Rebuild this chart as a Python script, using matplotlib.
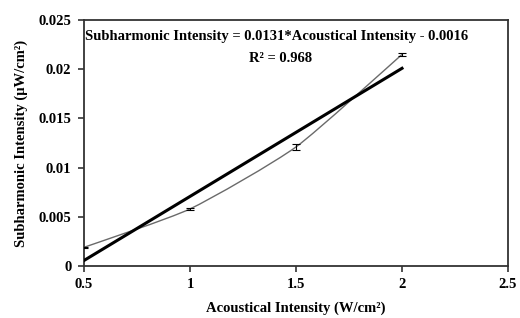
import matplotlib
matplotlib.use("Agg")
import matplotlib.pyplot as plt
import numpy as np
from matplotlib.path import Path
from matplotlib.patches import PathPatch

acoustic = [0.5, 1.0, 1.5, 2.0]
subharm = [0.0019, 0.0058, 0.0121, 0.0215]
subharm_err = [0.00005, 0.0001, 0.00027, 0.00018]

x_ticks = [0.5, 1, 1.5, 2, 2.5]
x_labels = ["0.5", "1", "1.5", "2", "2.5"]
y_ticks = [0, 0.005, 0.01, 0.015, 0.02, 0.025]
y_labels = ["0", "0.005", "0.01", "0.015", "0.02", "0.025"]

plt.rcParams["font.family"] = ["Liberation Serif", "DejaVu Serif"]
plt.rcParams["font.weight"] = "bold"

fig = plt.figure(figsize=(5.2, 3.18), dpi=100)
ax = fig.add_axes([84 / 520, 1 - 266 / 318, 424 / 520, 246 / 318])


def smooth_path(xs, ys, t=0.1):
    """Lightly smoothed line through the points (Bezier, Catmull-Rom tangents)."""
    pts = np.column_stack([xs, ys])
    verts, codes = [pts[0]], [Path.MOVETO]
    n = len(pts)
    for i in range(n - 1):
        p0 = pts[max(i - 1, 0)]
        p1, p2 = pts[i], pts[i + 1]
        p3 = pts[min(i + 2, n - 1)]
        c1 = p1 + (p2 - p0) * t
        c2 = p2 - (p3 - p1) * t
        verts += [c1, c2, p2]
        codes += [Path.CURVE4] * 3
    return Path(verts, codes)


ax.add_patch(PathPatch(smooth_path(acoustic, subharm), fill=False,
                       edgecolor="#6a6a6a", linewidth=1.0, zorder=2))
ax.errorbar(acoustic, subharm, yerr=subharm_err, fmt="none", ecolor="black",
            elinewidth=0.8, capsize=3, capthick=0.8, zorder=3)

# linear trendline over the measured range
slope, icpt = np.polyfit(acoustic, subharm, 1)
xf = np.array([acoustic[0], acoustic[-1]])
ax.plot(xf, slope * xf + icpt, color="black", linewidth=2.2, zorder=4)

ax.set_xlim(0.5, 2.5)
ax.set_ylim(0, 0.025)
ax.set_xticks(x_ticks)
ax.set_xticklabels(x_labels)
ax.set_yticks(y_ticks)
ax.set_yticklabels(y_labels)
ax.tick_params(direction="out", length=4, width=1.2, labelsize=10.5,
               color="#333333", pad=5)
for s in ax.spines.values():
    s.set_linewidth(1.3)
    s.set_color("#333333")

ax.set_xlabel("Acoustical Intensity (W/cm²)", fontsize=10.5,
              fontweight="bold", labelpad=7)
ax.set_ylabel("Subharmonic Intensity (μW/cm²)",
              fontsize=10.5, fontweight="bold", labelpad=8)

ax.text(0.507, 0.02337, "Subharmonic Intensity = 0.0131*Acoustical Intensity - 0.0016",
        fontsize=10.5, fontweight="bold", va="center", ha="left")
ax.text(1.425, 0.0211, "R² = 0.968", fontsize=10.5,
        fontweight="bold", va="center", ha="center")

fig.savefig("out.png", dpi=100)
